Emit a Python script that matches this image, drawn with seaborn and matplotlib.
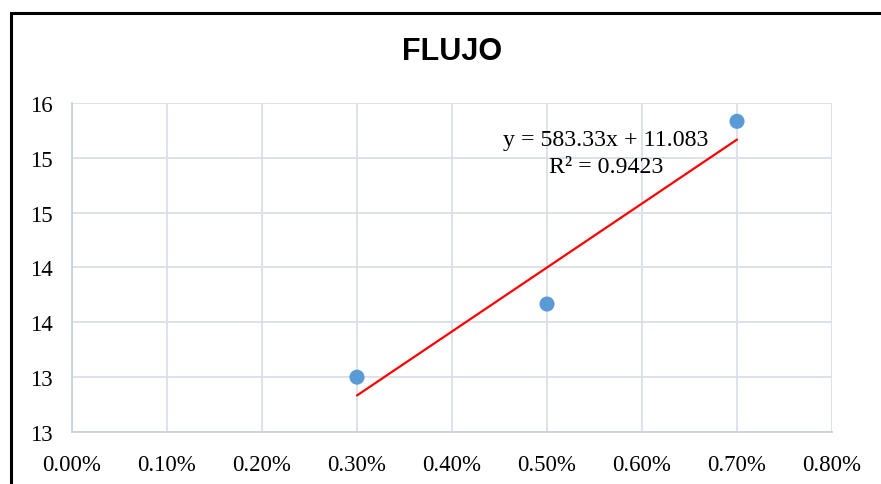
import numpy as np
import pandas as pd
import matplotlib
matplotlib.use("Agg")
import matplotlib.pyplot as plt
from matplotlib.ticker import FuncFormatter, MultipleLocator
from matplotlib.patches import Rectangle
import seaborn as sns

# data
x_vals = [0.003, 0.005, 0.007]
y_vals = [13.0, 13.667, 15.333]
title = "FLUJO"
eq_line1 = "y = 583.33x + 11.083"
eq_line2 = "R² = 0.9423"

sns.set_theme(style="white")
plt.rcParams['font.family'] = ['Liberation Serif', 'DejaVu Serif']
plt.rcParams['text.color'] = 'black'

fig = plt.figure(figsize=(8.81, 4.85), dpi=100)
ax = fig.add_axes([72/881, 1-433/485, (832-72)/881, (433-104)/485])

df = pd.DataFrame({"x": x_vals, "y": y_vals})
grid_c = "#D9DEE8"
sns.regplot(data=df, x="x", y="y", ax=ax, ci=None, truncate=True,
            scatter_kws=dict(s=118, color="#5B9BD5", edgecolor="none", alpha=1, zorder=4),
            line_kws=dict(color="#FF0000", lw=1.6, zorder=3))

ax.set_xlim(0, 0.008)
ax.set_ylim(12.5, 15.5)
ax.xaxis.set_major_locator(MultipleLocator(0.001))
ax.yaxis.set_major_locator(MultipleLocator(0.5))
ax.xaxis.set_major_formatter(FuncFormatter(lambda v, p: f"{v*100:.2f}%"))
ax.yaxis.set_major_formatter(FuncFormatter(lambda v, p: f"{int(np.floor(v + 0.5 + 1e-9))}"))
ax.grid(True, color=grid_c, lw=1.3)
ax.set_axisbelow(True)
for s in ["top", "right"]:
    ax.spines[s].set_visible(False)
for s in ["left", "bottom"]:
    ax.spines[s].set_color("#C9D1DD")
    ax.spines[s].set_linewidth(1.3)
ax.tick_params(axis="both", length=0, labelsize=16.5, colors="black")
ax.tick_params(axis="x", pad=16)
ax.tick_params(axis="y", pad=14)
ax.set_xlabel("")
ax.set_ylabel("")

fig.text(452/881, 1-52/485, title, ha="center", va="center", fontsize=22,
         fontweight="bold", color="black", family=["Liberation Sans", "DejaVu Sans"])
ax.text(0.00562, 15.17, eq_line1, ha="center", va="center", fontsize=17.2, color="black")
ax.text(0.00562, 14.925, eq_line2, ha="center", va="center", fontsize=17.2, color="black")

fig.add_artist(Rectangle((11/881, -0.1), 1.0, 1 - 14/485 + 0.1, transform=fig.transFigure,
                         fill=False, edgecolor="black", lw=2.2))

fig.savefig("out.png", dpi=100)
